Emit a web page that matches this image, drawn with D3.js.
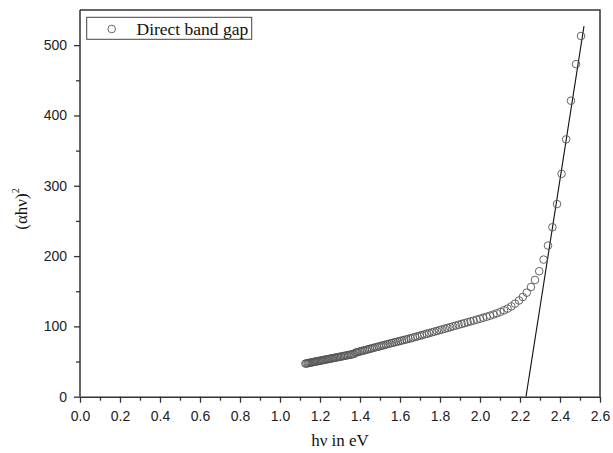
<!DOCTYPE html>
<html>
<head>
<meta charset="utf-8">
<script src="https://cdn.jsdelivr.net/npm/d3@7"></script>
<style>
  body { margin: 0; background: #fff; }
  svg { display: block; }
</style>
</head>
<body>
<script>
'use strict';

// photon energy (eV) of each measured point
const hvValues = [
  1.127, 1.132, 1.138, 1.143, 1.148, 1.153, 1.159, 1.164, 1.170, 1.175,
  1.181, 1.187, 1.192, 1.198, 1.204, 1.210, 1.216, 1.222, 1.228, 1.234,
  1.240, 1.246, 1.253, 1.259, 1.265, 1.272, 1.278, 1.285, 1.292, 1.298,
  1.305, 1.312, 1.319, 1.326, 1.333, 1.341, 1.348, 1.355, 1.363, 1.370,
  1.378, 1.385, 1.393, 1.401, 1.409, 1.417, 1.425, 1.434, 1.442, 1.450,
  1.459, 1.467, 1.476, 1.485, 1.494, 1.503, 1.512, 1.521, 1.531, 1.540,
  1.550, 1.560, 1.570, 1.580, 1.590, 1.600, 1.610, 1.621, 1.632, 1.642,
  1.653, 1.664, 1.676, 1.687, 1.699, 1.710, 1.722, 1.734, 1.746, 1.759,
  1.771, 1.784, 1.797, 1.810, 1.824, 1.837, 1.851, 1.865, 1.879, 1.893,
  1.908, 1.922, 1.938, 1.953, 1.968, 1.984, 2.000, 2.016, 2.033, 2.050,
  2.067, 2.084, 2.102, 2.120, 2.138, 2.157, 2.175, 2.195, 2.214, 2.234,
  2.255, 2.275, 2.296, 2.318, 2.340, 2.362, 2.385, 2.408, 2.431, 2.455,
  2.480, 2.505
];

// (alpha h nu)^2 of each measured point
const ahv2Values = [
  47.0, 47.3, 47.6, 47.9, 48.2, 48.5, 48.8, 49.1, 49.5, 49.8,
  50.1, 50.4, 50.7, 51.0, 51.4, 51.7, 52.1, 52.4, 52.8, 53.1,
  53.4, 53.8, 54.2, 54.5, 54.9, 55.3, 55.6, 56.0, 56.4, 56.7,
  57.1, 57.5, 57.9, 58.3, 58.7, 59.2, 59.6, 60.0, 60.4, 60.9,
  62.6, 63.2, 63.8, 64.4, 65.0, 65.6, 66.2, 66.9, 67.5, 68.1,
  68.8, 69.4, 70.1, 70.8, 71.4, 72.1, 72.8, 73.5, 74.2, 74.9,
  75.7, 76.4, 77.1, 77.8, 78.5, 79.2, 80.0, 80.7, 81.5, 82.3,
  83.1, 84.0, 84.9, 85.8, 86.7, 87.6, 88.6, 89.5, 90.5, 91.5,
  92.5, 93.5, 94.6, 95.6, 96.7, 97.8, 98.9, 100.0, 101.1, 102.3,
  103.5, 104.6, 105.9, 107.1, 108.3, 109.6, 110.9, 112.3, 113.7, 115.2,
  116.8, 118.6, 120.6, 122.8, 125.3, 128.5, 132.3, 136.8, 141.8, 148.0,
  156.0, 166.0, 178.5, 195.0, 215.0, 241.0, 274.0, 317.0, 366.0, 421.0,
  473.0, 513.0
];

// linear fit of the absorption edge
const fitHv = [2.23, 2.52];
const fitAhv2 = [0, 527];

const xTicks = [0, 0.2, 0.4, 0.6, 0.8, 1.0, 1.2, 1.4, 1.6, 1.8, 2.0, 2.2, 2.4, 2.6];
const xMinorTicks = [0.1, 0.3, 0.5, 0.7, 0.9, 1.1, 1.3, 1.5, 1.7, 1.9, 2.1, 2.3, 2.5];
const yTicks = [0, 100, 200, 300, 400, 500];
const yMinorTicks = [50, 150, 250, 350, 450];
const legendLabel = 'Direct band gap';

const measurements = {
  width: 613,
  height: 453,
  left: 80,
  right: 600,
  top: 10,
  bottom: 396.7
};

const svg = d3.select('body').append('svg')
  .attr('width', measurements.width)
  .attr('height', measurements.height);

const xScale = d3.scaleLinear()
  .domain([0, 2.6])
  .range([measurements.left, measurements.right]);

const yScale = d3.scaleLinear()
  .domain([0, 550])
  .range([measurements.bottom, measurements.top]);

// frame (top and right sides)
svg.append('path')
  .attr('d', `M${measurements.left},${measurements.top}H${measurements.right}V${measurements.bottom}`)
  .attr('fill', 'none')
  .attr('stroke', '#333')
  .attr('stroke-width', 1.5);

// fit line
svg.append('line')
  .attr('x1', xScale(fitHv[0]))
  .attr('y1', yScale(fitAhv2[0]))
  .attr('x2', xScale(fitHv[1]))
  .attr('y2', yScale(fitAhv2[1]))
  .attr('stroke', '#111')
  .attr('stroke-width', 1.1);

// data points
const points = hvValues.map((d, i) => ({ x: d, y: ahv2Values[i] }));
svg.append('g').selectAll('circle')
  .data(points)
  .enter()
  .append('circle')
  .attr('cx', d => xScale(d.x))
  .attr('cy', d => yScale(d.y))
  .attr('r', 3.8)
  .attr('fill', 'none')
  .attr('stroke', '#555')
  .attr('stroke-width', 0.9);

// axes
function styleAxis(g) {
  g.select('.domain').attr('stroke', '#333').attr('stroke-width', 1.5);
  g.selectAll('.tick line').attr('stroke', '#333').attr('stroke-width', 1.3);
  g.selectAll('.tick text')
    .attr('fill', '#222')
    .style('font-family', '"Liberation Sans", Arial, sans-serif')
    .style('font-size', '14px');
}

svg.append('g')
  .attr('transform', `translate(0,${measurements.bottom})`)
  .call(d3.axisBottom(xScale).tickValues(xMinorTicks).tickSize(4).tickFormat('').tickSizeOuter(0))
  .call(g => g.select('.domain').remove())
  .call(g => g.selectAll('.tick line').attr('stroke', '#333').attr('stroke-width', 1.3));

svg.append('g')
  .attr('transform', `translate(0,${measurements.bottom})`)
  .call(d3.axisBottom(xScale).tickValues(xTicks).tickFormat(d3.format('.1f'))
    .tickSize(6).tickSizeOuter(0).tickPadding(8))
  .call(styleAxis);

svg.append('g')
  .attr('transform', `translate(${measurements.left},0)`)
  .call(d3.axisLeft(yScale).tickValues(yMinorTicks).tickSize(4).tickFormat('').tickSizeOuter(0))
  .call(g => g.select('.domain').remove())
  .call(g => g.selectAll('.tick line').attr('stroke', '#333').attr('stroke-width', 1.3));

svg.append('g')
  .attr('transform', `translate(${measurements.left},0)`)
  .call(d3.axisLeft(yScale).tickValues(yTicks).tickFormat(d3.format('d'))
    .tickSize(6).tickSizeOuter(0).tickPadding(7))
  .call(styleAxis)
  .call(g => g.select('.domain').attr('d', `M0,${measurements.top}V${measurements.bottom}`));

// axis titles
const serif = '"Liberation Serif", "Times New Roman", serif';

svg.append('text')
  .attr('x', (measurements.left + measurements.right) / 2)
  .attr('y', 446)
  .attr('text-anchor', 'middle')
  .style('font-family', serif)
  .style('font-size', '17px')
  .attr('fill', '#111')
  .text('hν in eV');

const yTitle = svg.append('text')
  .attr('transform', 'translate(27,209)rotate(-90)')
  .attr('text-anchor', 'middle')
  .style('font-family', serif)
  .style('font-size', '17px')
  .attr('fill', '#111');
yTitle.append('tspan').text('(αhν)');
yTitle.append('tspan')
  .attr('dy', -8)
  .style('font-size', '10px')
  .text('2');

// legend
const legend = svg.append('g');
legend.append('rect')
  .attr('x', 86.7)
  .attr('y', 17.3)
  .attr('width', 165)
  .attr('height', 22)
  .attr('fill', '#fff')
  .attr('stroke', '#444')
  .attr('stroke-width', 1);
legend.append('circle')
  .attr('cx', 111.7)
  .attr('cy', 29)
  .attr('r', 3.8)
  .attr('fill', 'none')
  .attr('stroke', '#555')
  .attr('stroke-width', 0.9);
legend.append('text')
  .attr('x', 136.5)
  .attr('y', 35)
  .style('font-family', serif)
  .style('font-size', '17.5px')
  .attr('fill', '#111')
  .text(legendLabel);
</script>
</body>
</html>
